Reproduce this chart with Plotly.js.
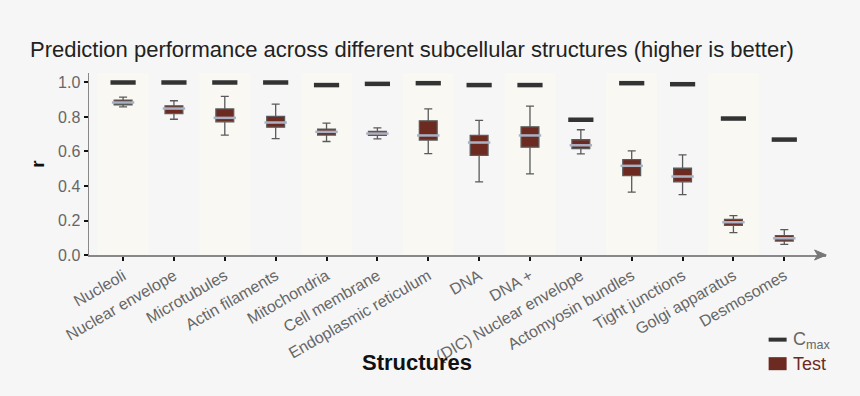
<!DOCTYPE html>
<html>
<head>
<meta charset="utf-8">
<script src="https://cdn.plot.ly/plotly-3.0.1.min.js"></script>
<style>html,body{margin:0;padding:0;background:#f6f6f6;}#chart{width:860px;height:396px;}</style>
</head>
<body>
<div id="chart"></div>
<script>
const categories = ["Nucleoli","Nuclear envelope","Microtubules","Actin filaments","Mitochondria","Cell membrane","Endoplasmic reticulum","DNA","DNA +","(DIC) Nuclear envelope","Actomyosin bundles","Tight junctions","Golgi apparatus","Desmosomes"];
const cmax        = [1.000,1.000,1.000,1.000,0.985,0.992,0.996,0.985,0.985,0.784,0.996,0.990,0.791,0.669];
const upperFence  = [0.915,0.894,0.919,0.875,0.764,0.737,0.847,0.780,0.863,0.726,0.604,0.580,0.228,0.147];
const q3          = [0.898,0.865,0.847,0.803,0.730,0.716,0.778,0.693,0.743,0.668,0.553,0.503,0.207,0.112];
const median      = [0.884,0.849,0.795,0.768,0.714,0.704,0.693,0.652,0.693,0.636,0.517,0.455,0.190,0.097];
const q1          = [0.871,0.820,0.772,0.741,0.695,0.693,0.666,0.577,0.625,0.617,0.460,0.424,0.172,0.081];
const lowerFence  = [0.859,0.787,0.695,0.675,0.658,0.673,0.588,0.424,0.470,0.586,0.364,0.350,0.130,0.062];
const yTicks = [0,0.2,0.4,0.6,0.8,1.0];

const FONT = "Liberation Sans, Arial, sans-serif";
const idx = categories.map((c,i)=>i);

// plot area geometry (px) used only for decorations placed in paper coords
const PL = 89, PW = 737.4, PB = 255, PH = 181.7;
const px = v => (v - PL) / PW;
const py = v => (PB - v) / PH;

const traces = [
  {
    type: "box", name: "Test", x: categories,
    q1: q1, median: median, q3: q3, lowerfence: lowerFence, upperfence: upperFence,
    fillcolor: "#6c2a21", line: {color: "#5a5a5a", width: 1.3},
    width: 0.35, whiskerwidth: 0.45, showlegend: false, hoverinfo: "skip"
  },
  {
    type: "scatter", mode: "markers", name: "median", x: categories, y: median,
    marker: {symbol: "line-ew", size: 16, line: {color: "#a9b2c4", width: 2.5}},
    showlegend: false, hoverinfo: "skip"
  },
  {
    type: "scatter", mode: "markers", name: "Cmax", x: categories, y: cmax,
    marker: {symbol: "line-ew", size: 18, line: {color: "#333333", width: 4.5}},
    showlegend: false, hoverinfo: "skip"
  }
];

const shapes = idx.filter(i => i % 2 === 0).map(i => ({
  type: "rect", xref: "x", yref: "paper", x0: i - 0.5, x1: i + 0.5, y0: 0, y1: 1,
  fillcolor: "#f9f8f3", line: {width: 0}, layer: "below"
}));
// axis arrowhead
shapes.push({type: "path", xref: "paper", yref: "paper",
  path: `M ${px(826.7)} ${py(255)} L ${px(815)} ${py(250)} L ${px(818)} ${py(255)} L ${px(815)} ${py(260)} Z`,
  fillcolor: "#777777", line: {color: "#777777", width: 1}});
// legend icons
shapes.push({type:"rect", xref:"paper", yref:"paper", x0:px(769), x1:px(787), y0:py(341.5), y1:py(337.5), fillcolor:"#333333", line:{width:0}});
shapes.push({type:"rect", xref:"paper", yref:"paper", x0:px(769), x1:px(787), y0:py(370), y1:py(357), fillcolor:"#6c2a21", line:{width:0}});

const layout = {
  width: 860, height: 396,
  margin: {l: 89, r: 33.6, t: 73.3, b: 141},
  paper_bgcolor: "#f6f6f6", plot_bgcolor: "#f6f6f6",
  font: {family: FONT, color: "#666666"},
  title: {text: "Prediction performance across different subcellular structures (higher is better)",
          font: {family: FONT, size: 22, color: "#222222"},
          x: 30/860, xanchor: "left", xref: "container", y: 1 - 49/396, yanchor: "middle", yref: "container"},
  showlegend: false,
  xaxis: {
    type: "category", range: [-0.67, 13.82], fixedrange: true,
    showline: true, linecolor: "#888888", linewidth: 1.5,
    ticks: "outside", ticklen: 4, tickwidth: 2, tickcolor: "#111111",
    tickangle: -30, tickfont: {family: FONT, size: 16, color: "#666666"},
    showgrid: false, zeroline: false
  },
  yaxis: {
    range: [0, 1.055], fixedrange: true,
    tickvals: yTicks, tickformat: ".1f",
    showline: true, linecolor: "#888888", linewidth: 1.5,
    ticks: "outside", ticklen: 4, tickwidth: 2, tickcolor: "#111111",
    tickfont: {family: FONT, size: 16, color: "#666666"},
    showgrid: false, zeroline: false,
    title: {text: "<b>r</b>", font: {family: FONT, size: 19, color: "#111111"}, standoff: 8}
  },
  shapes: shapes,
  annotations: [
    {xref: "paper", yref: "paper", x: px(417), y: py(362), xanchor: "center", yanchor: "middle",
     text: "<b>Structures</b>", showarrow: false, font: {family: FONT, size: 22, color: "#111111"}},
    {xref: "paper", yref: "paper", x: px(791), y: py(340), xanchor: "left", yanchor: "middle",
     text: "C<sub>max</sub>", showarrow: false, font: {family: FONT, size: 18, color: "#666666"}},
    {xref: "paper", yref: "paper", x: px(791), y: py(364), xanchor: "left", yanchor: "middle",
     text: "Test", showarrow: false, font: {family: FONT, size: 18, color: "#6c2a21"}}
  ]
};

Plotly.newPlot("chart", traces, layout, {displayModeBar: false, staticPlot: true});
</script>
</body>
</html>
